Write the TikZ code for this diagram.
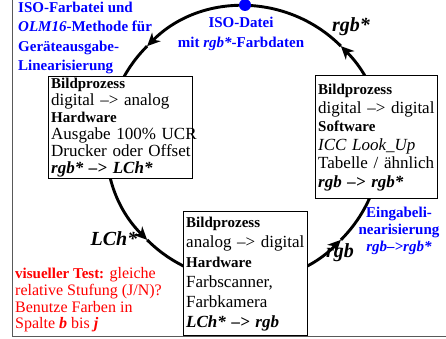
\documentclass[tikz,border=0pt]{standalone}
\usepackage{fontspec}
\setmainfont{Liberation Serif}
\usetikzlibrary{arrows.meta}
\newcommand{\hd}[1]{{\fontsize{15}{15}\selectfont\bfseries #1}}
\newcommand{\bix}[1]{\textbf{\textit{#1}}}
\renewcommand{\arraystretch}{1}
\begin{document}
\begin{tikzpicture}[x=1pt,y=-1pt,
  box/.style={draw, line width=1.4pt, fill=white, anchor=north west, inner xsep=2.5pt, inner ysep=0pt, align=left},
  arr/.style={line width=2.9pt, -{Stealth[length=13pt,width=12pt,inset=4pt]}},
  bluet/.style={text=blue, inner sep=0pt},
  lab/.style={font=\fontsize{20}{20}\selectfont\bfseries\itshape, inner sep=0pt, anchor=base}]
\useasboundingbox (0,0) rectangle (446,339);
\draw[line width=1pt, black!65] (12,0) -- (12,336) -- (446,336);
\coordinate (C) at (244,143);
\draw[arr] ([shift={(315:137pt)}]C) arc[start angle=315, end angle=405, radius=137pt];
\draw[arr] ([shift={(45:137pt)}]C) arc[start angle=45, end angle=135, radius=137pt];
\draw[arr] ([shift={(135:137pt)}]C) arc[start angle=135, end angle=225, radius=137pt];
\draw[arr] ([shift={(225:137pt)}]C) arc[start angle=225, end angle=315, radius=137pt];
\node[circle, fill=blue, inner sep=0pt, minimum size=12pt] (dot) at (245,5) {};
% boxes
\node[box, text width=139pt, minimum height=102pt, font=\fontsize{17}{17}\selectfont] (L) at (48,76)
 {\begin{tabular}{@{}l@{}}\hd{Bildprozess}\\ digital \textendash> analog\\ \hd{Hardware}\\ Ausgabe 100\% UCR\\ Drucker oder Offset\\ \bix{rgb* \textendash> LCh*}\end{tabular}};
\node[box, text width=117pt, minimum height=123pt, font=\fontsize{17}{18.6}\selectfont] (R) at (315,75)
 {\begin{tabular}{@{}l@{}}\hd{Bildprozess}\\ digital \textendash> digital\\ \hd{Software}\\ \textit{ICC Look\_Up}\\ Tabelle / ähnlich\\ \bix{rgb \textendash> rgb*}\end{tabular}};
\node[box, text width=119pt, minimum height=124pt, font=\fontsize{17}{20}\selectfont] (B) at (183,211)
 {\begin{tabular}{@{}l@{}}\hd{Bildprozess}\\ analog \textendash> digital\\ \hd{Hardware}\\ Farbscanner,\\ Farbkamera\\ \bix{LCh* \textendash> rgb}\end{tabular}};
% texts
\node[bluet, anchor=north west, align=left, font=\fontsize{15}{19.5}\selectfont\bfseries] (T) at (18,1.5)
 {ISO-Farbatei und\\ \textit{OLM16}-Methode für\\ Geräteausgabe-\\ Linearisierung};
\node[bluet, anchor=north, align=center, font=\fontsize{15}{20}\selectfont\bfseries] (F) at (241,16.5)
 {ISO-Datei\\ mit \textit{rgb*}-Farbdaten};
\node[bluet, anchor=north, align=center, font=\fontsize{15}{17}\selectfont\bfseries] (E) at (399,206.5)
 {Eingabeli-\\ nearisierung\\ \textit{rgb\textendash>rgb*}};
\node[text=red, anchor=north west, align=left, inner sep=0pt, font=\fontsize{16}{16.7}\selectfont] (V) at (15,267.5)
 {\hd{visueller Test:} gleiche\\ relative Stufung (J/N)?\\ Benutze Farben in\\ Spalte \bix{b} bis \bix{j}};
\node[lab] (l1) at (351,32) {rgb*};
\node[lab] (l2) at (114,245) {LCh*};
\node[lab] (l3) at (340,257) {rgb};
\end{tikzpicture}
\end{document}
